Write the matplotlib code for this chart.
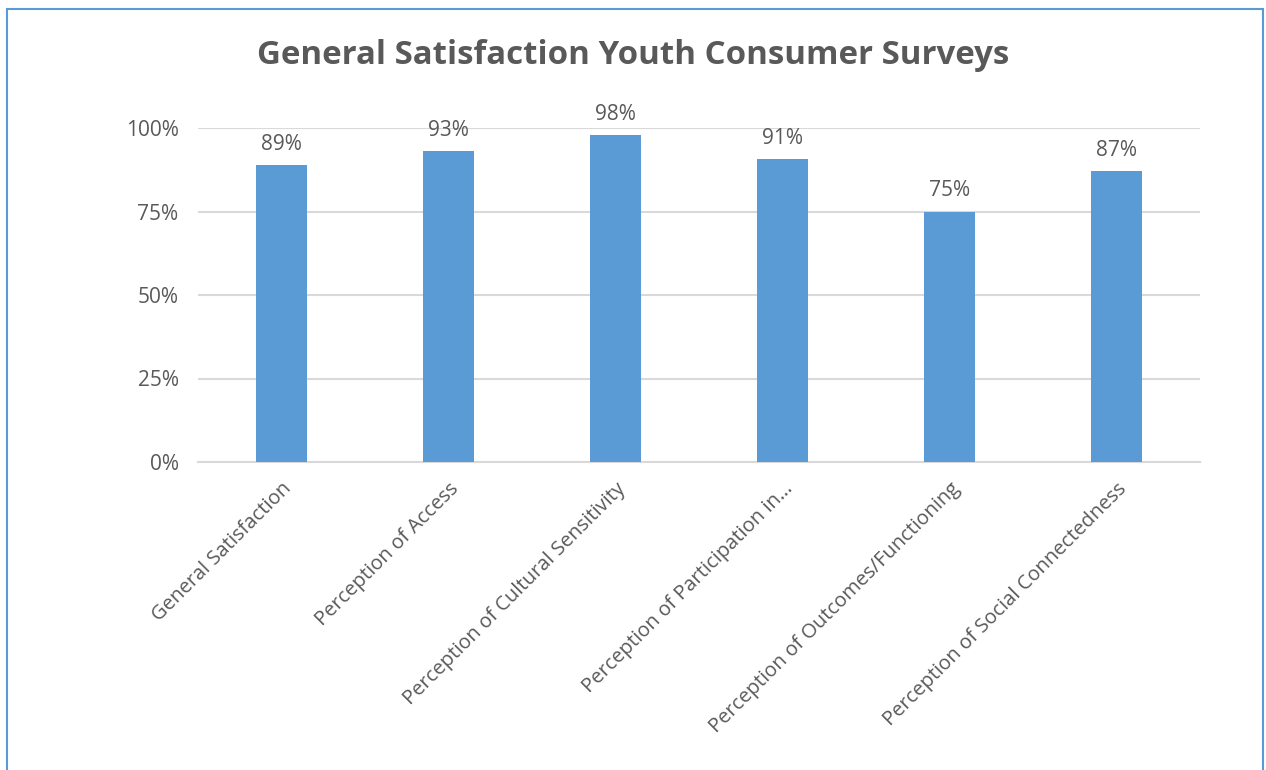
import matplotlib.pyplot as plt
from matplotlib.patches import Rectangle
from matplotlib.ticker import PercentFormatter

categories = ['General Satisfaction', 'Perception of Access',
              'Perception of Cultural Sensitivity', 'Perception of Participation in\u2026',
              'Perception of Outcomes/Functioning', 'Perception of Social Connectedness']
values = [0.89, 0.93, 0.98, 0.906, 0.75, 0.87]
yticks = [0, 0.25, 0.5, 0.75, 1.0]

grey = '#595959'
plt.rcParams['font.family'] = ['Open Sans', 'DejaVu Sans']

fig = plt.figure(figsize=(12.66, 7.70), dpi=100)
W, H = 1266, 770
ax = fig.add_axes([198 / W, 1 - 462 / H, (1200 - 198) / W, (462 - 128) / H])

x = range(len(categories))
ax.bar(x, values, width=0.31, color='#5B9BD5', zorder=3)
for i, v in zip(x, values):
    ax.text(i, v + 0.03, '{:.0%}'.format(v), ha='center', va='bottom',
            fontsize=15, color=grey, clip_on=False)

ax.set_xlim(-0.5, len(categories) - 0.5)
ax.set_ylim(0, 1.0)
ax.set_yticks(yticks)
ax.yaxis.set_major_formatter(PercentFormatter(1.0, decimals=0))
ax.grid(axis='y', color='#D9D9D9', linewidth=1.5, zorder=0)
ax.set_axisbelow(True)
for s in ['top', 'right', 'left']:
    ax.spines[s].set_visible(False)
ax.spines['bottom'].set_color('#D9D9D9')
ax.spines['bottom'].set_linewidth(1.5)
ax.tick_params(axis='both', length=0, labelsize=15, labelcolor=grey)
ax.tick_params(axis='y', pad=14)
ax.set_xticks(list(x))
ax.set_xticklabels(categories, rotation=45, ha='right', va='top',
                   rotation_mode='anchor', fontsize=14.5)
ax.tick_params(axis='x', pad=12)

fig.text(0.5, 1 - 55 / H, 'General Satisfaction Youth Consumer Surveys',
         ha='center', va='center', fontsize=23.8, fontweight='bold', color=grey)

fig.patches.append(Rectangle((7 / W, -0.05), (1263 - 7) / W, 1.05 - 9 / H,
                             transform=fig.transFigure, fill=False,
                             edgecolor='#5B9BD5', linewidth=1.5))

fig.savefig('out.png', dpi=100)
